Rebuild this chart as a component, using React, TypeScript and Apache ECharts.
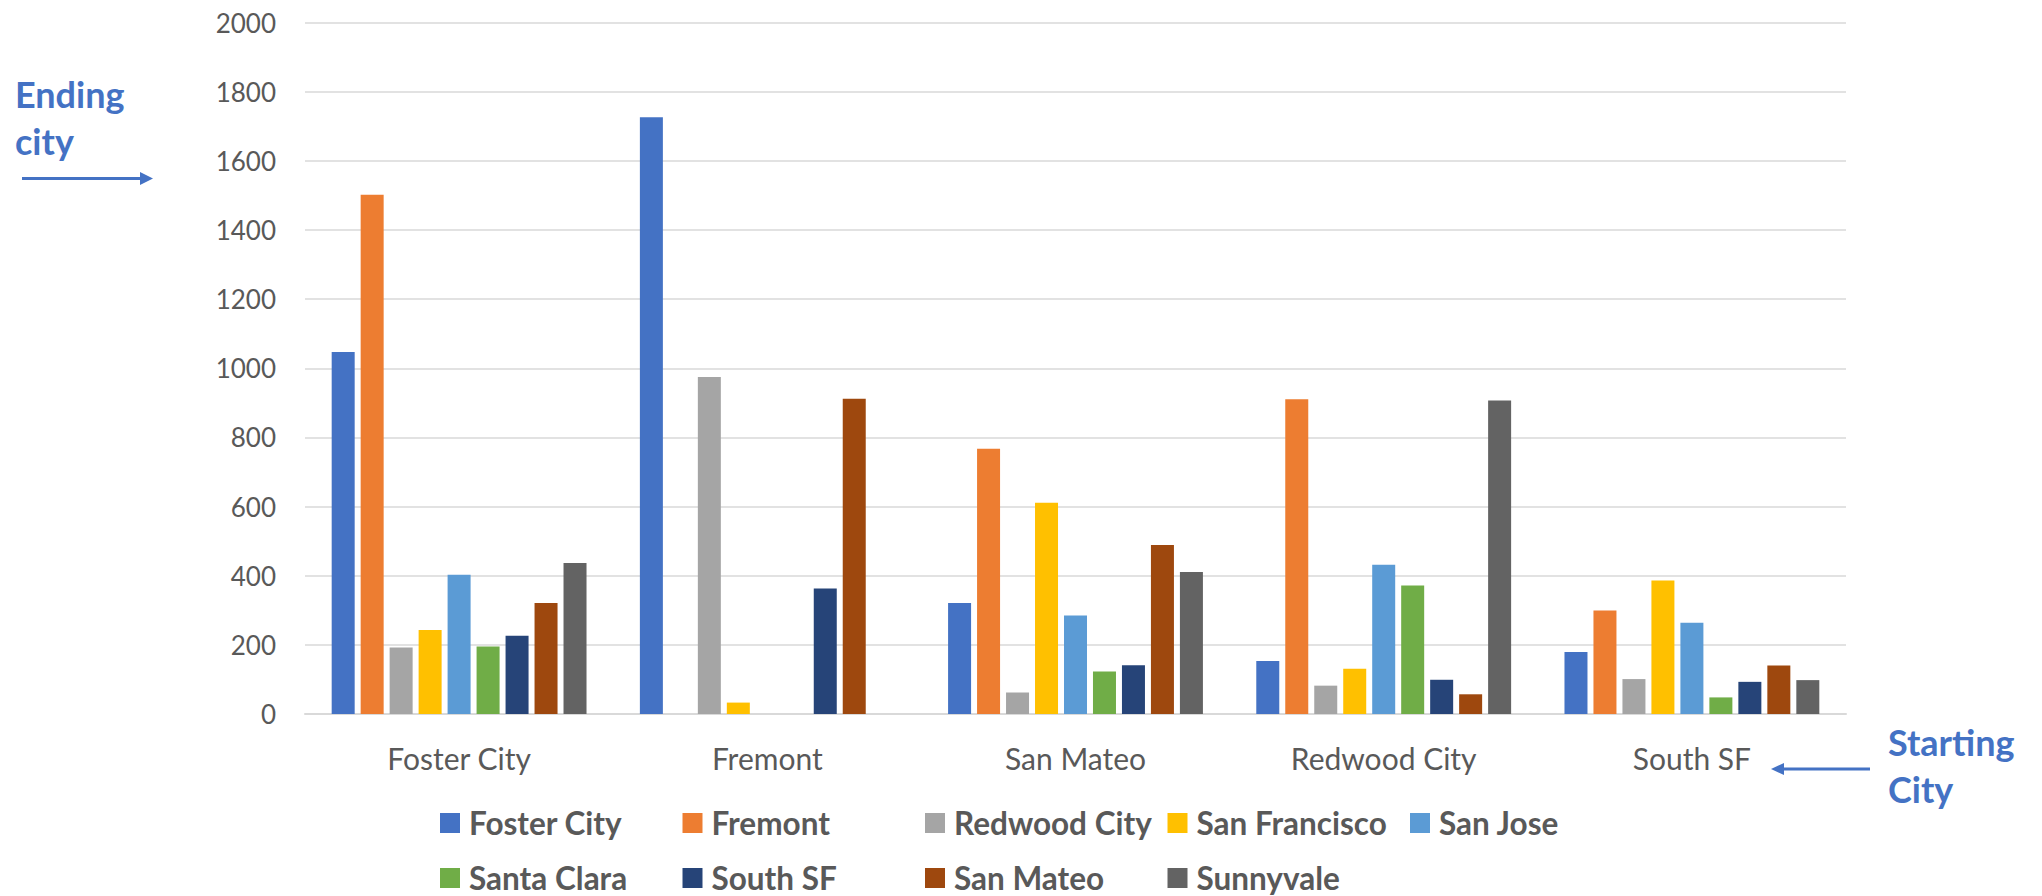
import React, { useEffect, useRef } from "react";
import * as echarts from "echarts";

// Starting cities (x-axis groups)
const startingCities = ["Foster City", "Fremont", "San Mateo", "Redwood City", "South SF"];

// Ending cities (one bar series each)
const endingCities = [
  "Foster City",
  "Fremont",
  "Redwood City",
  "San Francisco",
  "San Jose",
  "Santa Clara",
  "South SF",
  "San Mateo",
  "Sunnyvale",
];

// Trip counts per ending city, ordered like startingCities
const fosterCityTrips = [1047, 1726, 321, 153, 179];
const fremontTrips = [1502, 0, 767, 910, 299];
const redwoodCityTrips = [192, 975, 62, 82, 101];
const sanFranciscoTrips = [243, 33, 611, 131, 386];
const sanJoseTrips = [403, 0, 285, 432, 264];
const santaClaraTrips = [195, 0, 123, 372, 48];
const southSFTrips = [226, 363, 141, 99, 93];
const sanMateoTrips = [321, 912, 489, 57, 140];
const sunnyvaleTrips = [437, 0, 411, 907, 98];

const seriesValues = [
  fosterCityTrips,
  fremontTrips,
  redwoodCityTrips,
  sanFranciscoTrips,
  sanJoseTrips,
  santaClaraTrips,
  southSFTrips,
  sanMateoTrips,
  sunnyvaleTrips,
];

const palette = [
  "#4472C4",
  "#ED7D31",
  "#A5A5A5",
  "#FFC000",
  "#5B9BD5",
  "#70AD47",
  "#264478",
  "#9E480E",
  "#636363",
];

const FONT = "Lato, 'Noto Sans', sans-serif";
const TEXT_GREY = "#595959";
const NOTE_BLUE = "#4472C4";

export default function App() {
  const ref = useRef<HTMLDivElement>(null);

  useEffect(() => {
    if (!ref.current) return;
    const chart = echarts.init(ref.current, undefined, { renderer: "svg" });

    // Legend laid out as a 5-column table, two rows
    const colX = [440, 682.5, 925, 1167.5, 1410];
    const rowY = [807, 862];
    const legends = endingCities.map((name, i) => ({
      show: true,
      data: [name],
      left: colX[i % 5],
      top: rowY[Math.floor(i / 5)],
      padding: 0,
      itemWidth: 20,
      itemHeight: 20,
      icon: "rect",
      textStyle: {
        fontFamily: FONT,
        fontSize: 31.5,
        fontWeight: "bold",
        color: TEXT_GREY,
        padding: [0, 0, 0, 4],
      },
    }));

    chart.setOption({
      animation: false,
      backgroundColor: "#ffffff",
      textStyle: { fontFamily: FONT },
      grid: {
        left: 305,
        right: 196,
        top: 22.5,
        bottom: 182,
        containLabel: false,
        outerBoundsMode: "none",
      },
      legend: legends,
      xAxis: {
        type: "category",
        data: startingCities,
        axisTick: { show: false },
        axisLine: { show: true, lineStyle: { color: "#D9D9D9", width: 2 } },
        axisLabel: {
          fontFamily: FONT,
          fontSize: 30,
          color: TEXT_GREY,
          margin: 29,
        },
      },
      yAxis: {
        type: "value",
        min: 0,
        max: 2000,
        interval: 200,
        axisLine: { show: false },
        axisTick: { show: false },
        splitLine: { lineStyle: { color: "#D9D9D9", width: 1.5 } },
        axisLabel: {
          fontFamily: FONT,
          fontSize: 26,
          color: TEXT_GREY,
          margin: 29,
          formatter: (v: number) => String(v),
        },
      },
      series: endingCities.map((name, i) => ({
        name,
        type: "bar",
        data: seriesValues[i],
        barWidth: 23,
        barGap: "26%",
        itemStyle: { color: palette[i] },
      })),
      graphic: [
        {
          type: "text",
          left: 15,
          top: 70,
          style: {
            text: "Ending\ncity",
            fontFamily: FONT,
            fontSize: 36,
            fontWeight: "bold",
            lineHeight: 47,
            fill: NOTE_BLUE,
          },
        },
        {
          type: "line",
          shape: { x1: 22, y1: 178.5, x2: 142, y2: 178.5 },
          style: { stroke: NOTE_BLUE, lineWidth: 3 },
        },
        {
          type: "polygon",
          shape: { points: [[140, 172], [153, 178.5], [140, 185]] },
          style: { fill: NOTE_BLUE },
        },
        {
          type: "text",
          left: 1888,
          top: 718,
          style: {
            text: "Starting\nCity",
            fontFamily: FONT,
            fontSize: 36,
            fontWeight: "bold",
            lineHeight: 47,
            fill: NOTE_BLUE,
          },
        },
        {
          type: "line",
          shape: { x1: 1782, y1: 769, x2: 1870, y2: 769 },
          style: { stroke: NOTE_BLUE, lineWidth: 3 },
        },
        {
          type: "polygon",
          shape: { points: [[1784, 763], [1771, 769], [1784, 775]] },
          style: { fill: NOTE_BLUE },
        },
      ],
    });

    return () => chart.dispose();
  }, []);

  return (
    <div
      ref={ref}
      style={{ position: "fixed", left: 0, top: 0, width: 2042, height: 896 }}
    />
  );
}
